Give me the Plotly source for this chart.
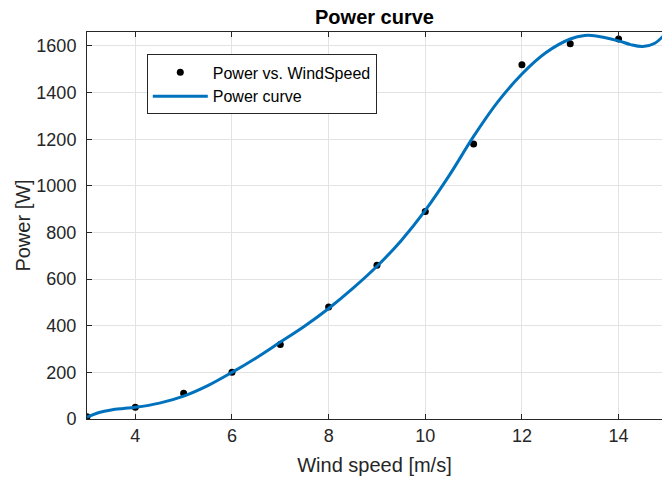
import plotly.graph_objects as go

# Measured data points
wind_speed = [3, 4, 5, 6, 7, 8, 9, 10, 11, 12, 13, 14]
power = [10, 50, 110, 200, 320, 480, 660, 890, 1180, 1520, 1610, 1630]

# Fitted power curve
curve_x = [3.0, 3.25, 3.5, 3.75, 4.0, 4.5, 5.0, 5.5, 6.0, 6.5, 7.0, 7.5, 8.0, 8.5,
           9.0, 9.5, 10.0, 10.5, 11.0, 11.5, 12.0, 12.5, 13.0, 13.3, 13.5, 14.0,
           14.25, 14.5, 14.75, 15.0]
curve_y = [8, 28, 39, 45, 50, 68, 98, 143, 200, 262, 330, 398, 474, 560,
           655, 765, 895, 1046, 1212, 1360, 1480, 1572, 1630, 1645, 1644, 1622,
           1606, 1598, 1612, 1660]

x_ticks = [4, 6, 8, 10, 12, 14]
y_ticks = [0, 200, 400, 600, 800, 1000, 1200, 1400, 1600]

FONT = "Liberation Sans, Arial, sans-serif"
TXT = "#262626"

fig = go.Figure()
fig.add_trace(go.Scatter(x=wind_speed, y=power, mode="markers",
                         name="Power vs. WindSpeed",
                         marker=dict(color="black", size=7)))
fig.add_trace(go.Scatter(x=curve_x, y=curve_y, mode="lines", name="Power curve",
                         line=dict(color="#0072BD", width=3, shape="spline",
                                   smoothing=1.0)))

axis_common = dict(showline=True, linecolor=TXT, linewidth=1,
                   ticks="inside", ticklen=5, tickcolor=TXT, tickwidth=1,
                   showgrid=True, gridcolor="#e3e3e3", gridwidth=1,
                   zeroline=False,
                   tickfont=dict(family=FONT, size=18, color=TXT))

fig.update_layout(
    width=662, height=480,
    margin=dict(l=87, r=0, t=32, b=61),
    paper_bgcolor="white", plot_bgcolor="white",
    title=dict(text="<b>Power curve</b>", x=0.5, xref="paper", xanchor="center",
               y=1 - 17 / 480, yanchor="middle",
               font=dict(family=FONT, size=20, color="black")),
    xaxis=dict(range=[3, 3 + (662 - 87.3) / 48.3], tickvals=x_ticks,
               mirror="ticks",
               title=dict(text="Wind speed [m/s]", standoff=13,
                          font=dict(family=FONT, size=20, color=TXT)),
               **axis_common),
    yaxis=dict(range=[0, 1660], tickvals=y_ticks, ticklabelstandoff=6,
               title=dict(text="Power [W]", standoff=0,
                          font=dict(family=FONT, size=20, color=TXT)),
               **axis_common),
    legend=dict(x=0.104, y=0.942, xanchor="left", yanchor="top",
                bgcolor="white", bordercolor=TXT, borderwidth=1,
                font=dict(family=FONT, size=16, color="black"),
                itemwidth=55, tracegroupgap=0),
    showlegend=True,
)

fig.write_html("out.html")
